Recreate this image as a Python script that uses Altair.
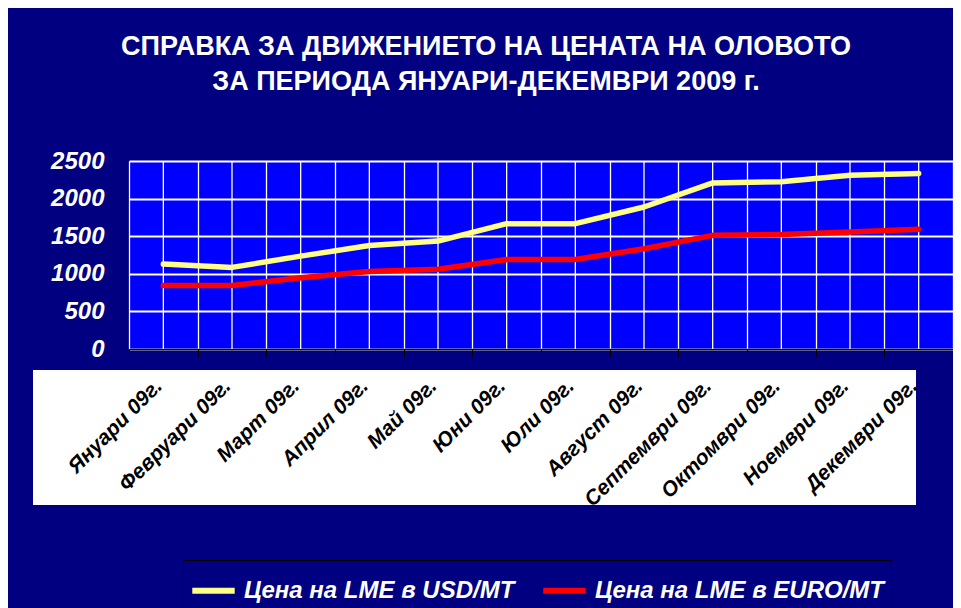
import altair as alt
import pandas as pd
import numpy as np

months = ["Януари 09г.", "Февруари 09г.", "Март 09г.", "Април 09г.", "Май 09г.", "Юни 09г.",
          "Юли 09г.", "Август 09г.", "Септември 09г.", "Октомври 09г.", "Ноември 09г.", "Декември 09г."]
usd = [1130, 1085, 1235, 1377, 1435, 1667, 1667, 1888, 2209, 2225, 2311, 2333]
eur = [844, 844, 947, 1031, 1061, 1191, 1191, 1333, 1511, 1524, 1556, 1591]
series_names = ["Цена на LME в USD/MT", "Цена на LME в EURO/MT"]
series_colors = ["#FFFF88", "#FF0000"]
y_ticks = [0, 500, 1000, 1500, 2000, 2500]
title_lines = ["СПРАВКА ЗА ДВИЖЕНИЕТО НА ЦЕНАТА НА ОЛОВОТО", "ЗА ПЕРИОДА ЯНУАРИ-ДЕКЕМВРИ 2009 г."]

n = len(months)
wide = pd.DataFrame({"month": months, "idx": list(range(n)), "usd": usd, "eur": eur,
                     "y0": [0] * n, "y1": [max(y_ticks)] * n})
long = pd.concat([
    pd.DataFrame({"month": months, "idx": list(range(n)), "value": usd, "series": series_names[0]}),
    pd.DataFrame({"month": months, "idx": list(range(n)), "value": eur, "series": series_names[1]}),
])

x_scale = alt.Scale(domain=[-0.5, n - 0.5], nice=False, zero=False)
y_scale = alt.Scale(domain=[0, max(y_ticks)], nice=False)
boundaries = list(np.arange(-0.5, n, 1.0))

font = "Liberation Sans"

x_axis = alt.Axis(values=boundaries, labels=False, grid=True, gridColor="white",
                  gridWidth=1.3, gridOpacity=1, ticks=True, tickSize=8,
                  tickColor="black", tickWidth=1, domain=True, domainColor="black",
                  domainWidth=1.5, title=None)
y_axis = alt.Axis(values=y_ticks, format="d", grid=True, gridColor="white", gridWidth=2,
                  gridOpacity=1, ticks=False, domain=False, labelPadding=25,
                  labelColor="white", labelFont=font, labelFontSize=24,
                  labelFontWeight="bold", labelFontStyle="italic", title=None)

centers = alt.Chart(wide).mark_rule(color="white", strokeWidth=1.3).encode(
    x=alt.X("idx:Q", scale=x_scale, axis=x_axis),
    y=alt.Y("y0:Q", scale=y_scale, axis=y_axis),
    y2="y1:Q",
)

lines = alt.Chart(long).mark_line(strokeWidth=5.5, strokeCap="round", strokeJoin="round").encode(
    x=alt.X("idx:Q", scale=x_scale, axis=x_axis),
    y=alt.Y("value:Q", scale=y_scale, axis=y_axis),
    color=alt.Color("series:N",
                    scale=alt.Scale(domain=series_names, range=series_colors),
                    legend=alt.Legend(title=None, orient="none", legendX=54, legendY=399,
                                      direction="horizontal", fillColor="#000080",
                                      strokeColor="black", padding=6,
                                      symbolType="stroke", symbolStrokeWidth=6,
                                      symbolSize=1800, labelOffset=6, columnPadding=16,
                                      labelColor="white", labelFont=font, labelFontSize=24,
                                      labelFontWeight="bold", labelFontStyle="italic",
                                      labelLimit=400)),
    order=alt.Order("idx:Q"),
)

label_bg = alt.Chart(pd.DataFrame({"k": [0]})).mark_rect(color="white").encode(
    x=alt.value(-96), x2=alt.value(787), y=alt.value(209), y2=alt.value(344)
)

labels = alt.Chart(wide).mark_text(
    angle=315, align="right", baseline="middle", font=font, fontSize=21,
    fontWeight="bold", fontStyle="italic", color="black", dx=-6
).encode(
    x=alt.X("idx:Q", scale=x_scale, axis=x_axis),
    y=alt.value(218),
    text="month:N",
)

chart = alt.layer(centers, lines, label_bg, labels).properties(
    width=824, height=188,
    autosize=alt.AutoSizeParams(type="none"),
    padding={"left": 121, "top": 153, "right": 0, "bottom": 259},
    background="#000080",
    title=alt.TitleParams(text=title_lines, color="white", font=font, fontSize=27,
                          fontWeight="bold", anchor="middle", frame="group", dx=-55,
                          lineHeight=35, offset=53),
).configure_view(fill="#0000FF", stroke="transparent")

chart.save("out.html", embed_options={"renderer": "svg", "actions": False})
